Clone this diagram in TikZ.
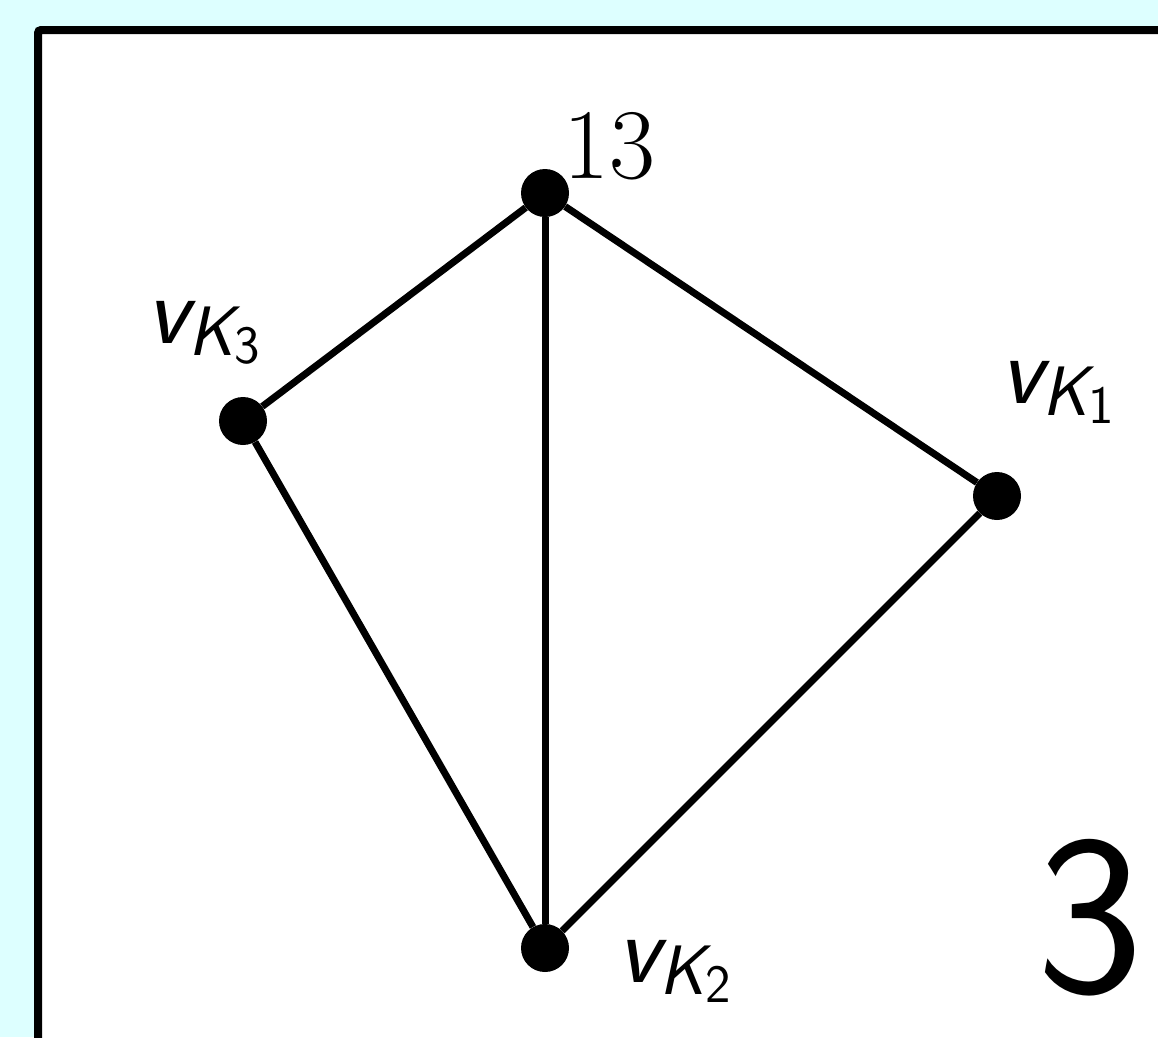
\documentclass[tikz,border=0pt]{standalone}
\usepackage{fontspec}
\definecolor{bg}{HTML}{DDFFFF}
\newcommand{\vksub}[1]{{\sffamily\itshape v}\raisebox{-12pt}{\fontsize{70}{80}\selectfont\sffamily\itshape K\raisebox{-8pt}{\fontsize{54}{60}\selectfont\upshape #1}}}
\begin{document}
\begin{tikzpicture}[x=1pt,y=-1pt,
  dot/.style={circle,fill=black,inner sep=0pt,minimum size=48pt},
  edge/.style={line width=7pt},
  lbl/.style={inner sep=0pt,anchor=base west,font=\fontsize{98}{110}\selectfont}]
\useasboundingbox (0,0) rectangle (1158,1037);
\fill[bg] (0,0) rectangle (1158,1037);
\begin{scope}
\clip (0,0) rectangle (1158,1037);
\draw[line width=8pt, fill=white, rounded corners=3pt] (38,1200) -- (38,30) -- (1300,30) -- (1300,1200) -- cycle;
\end{scope}
\node[dot] (t) at (545,193) {};
\node[dot] (l) at (243,421) {};
\node[dot] (r) at (997,496) {};
\node[dot] (b) at (545,948) {};
\draw[edge] (t) -- (l);
\draw[edge] (t) -- (b);
\draw[edge] (t) -- (r);
\draw[edge] (l) -- (b);
\draw[edge] (r) -- (b);
\node[lbl,font=\fontsize{100}{110}\selectfont] (n13) at (563,178) {13};
\node[lbl] (k3) at (146,343) {\vksub{3}};
\node[lbl] (k1) at (1000,403) {\vksub{1}};
\node[lbl] (k2) at (617,982) {\vksub{2}};
\node[inner sep=0pt,font=\fontsize{228}{260}\selectfont\sffamily] (big) at (1090,918) {3};
\end{tikzpicture}
\end{document}
